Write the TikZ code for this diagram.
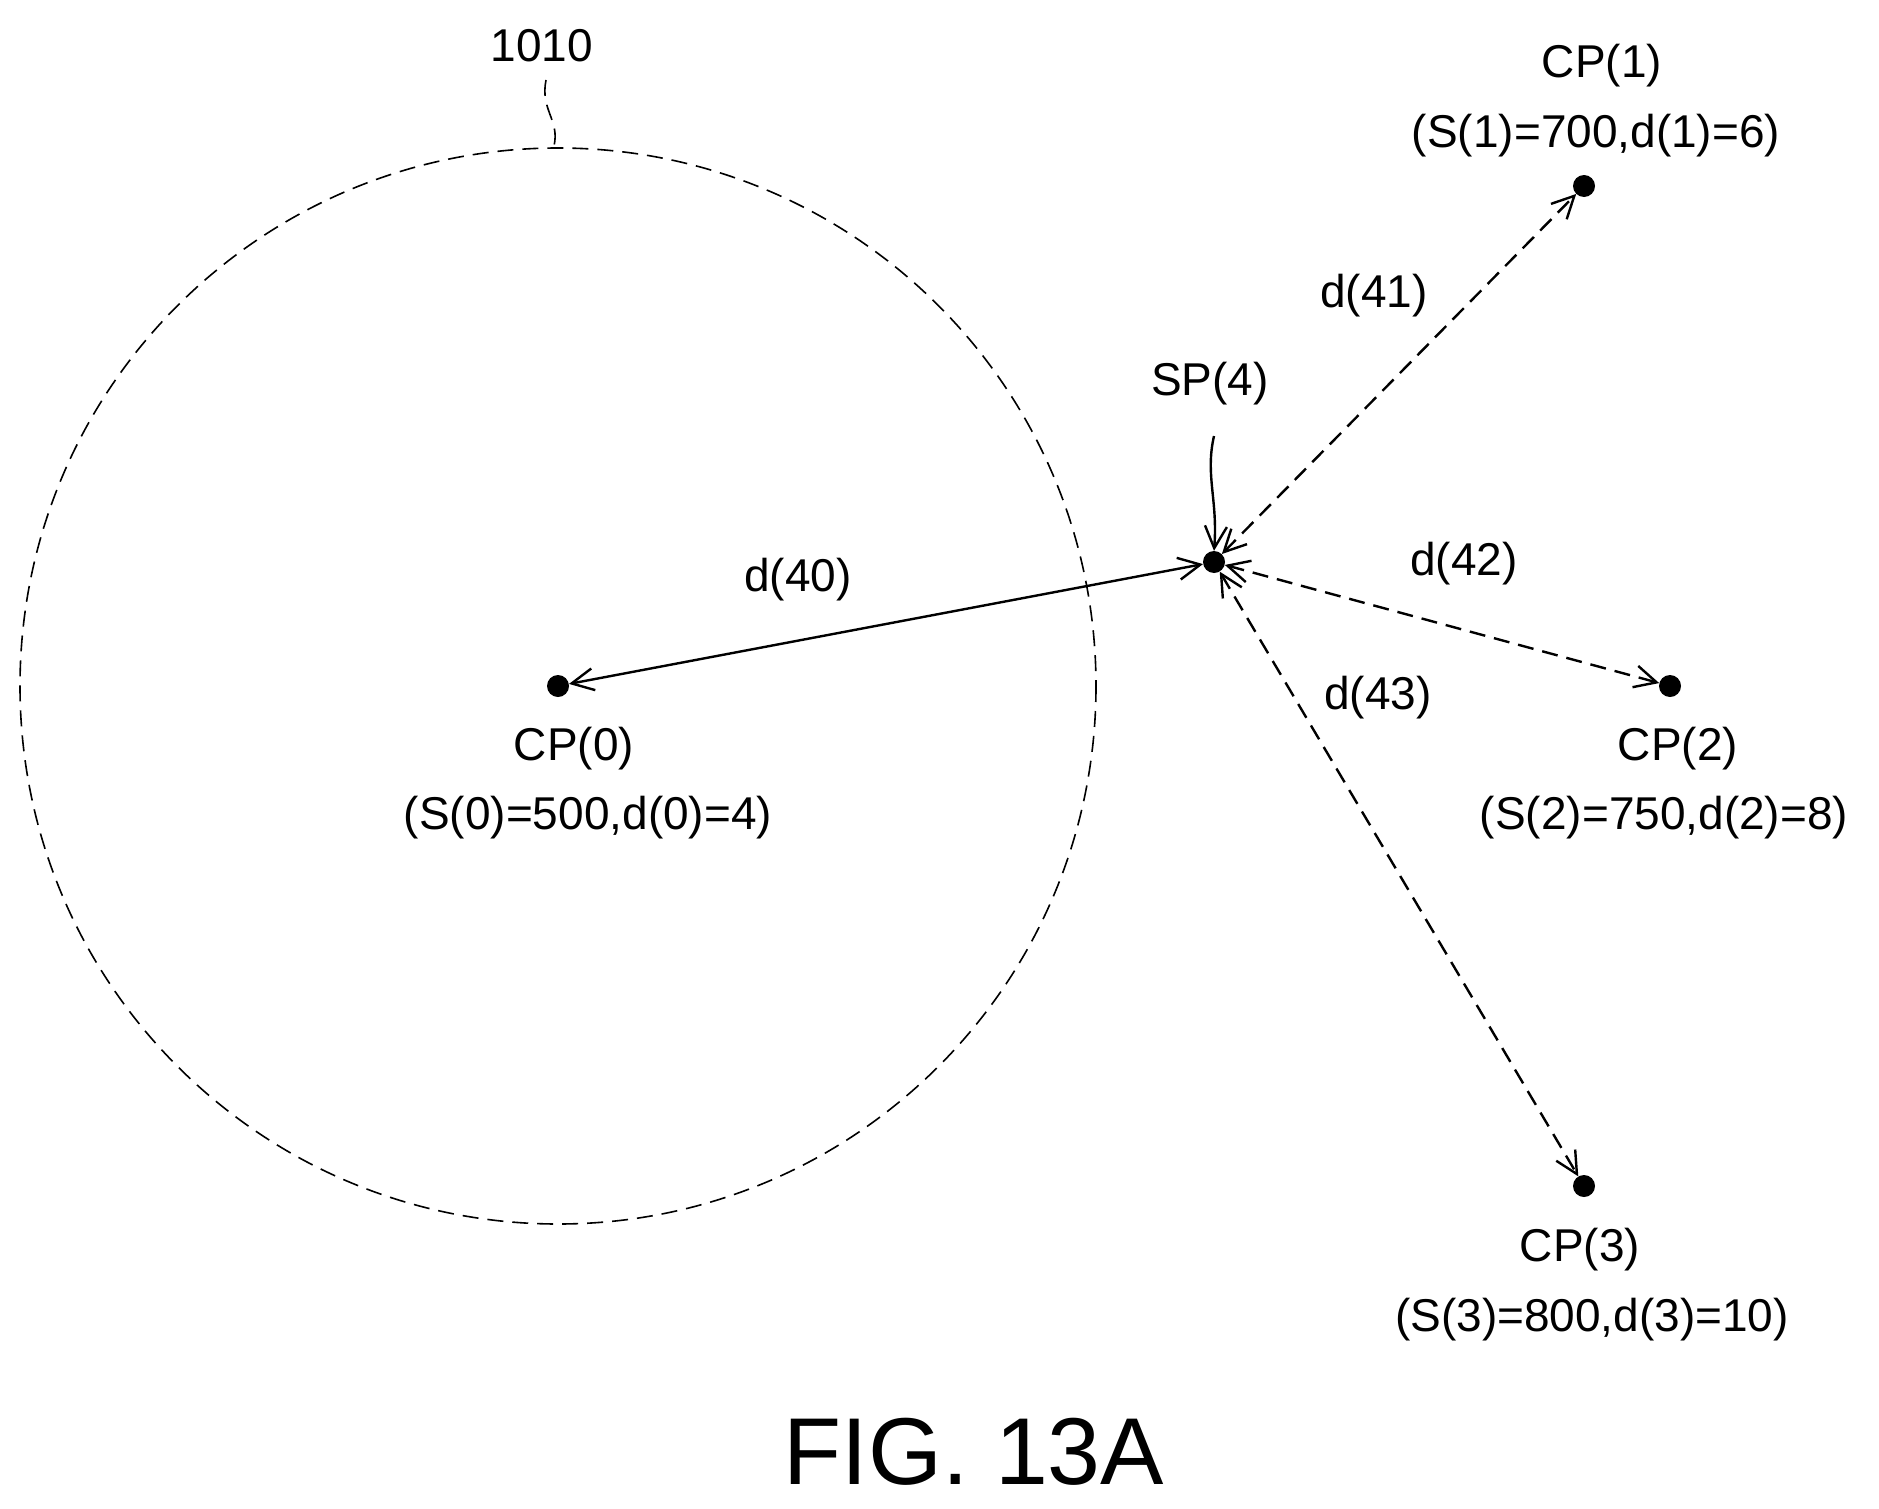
\documentclass[tikz,border=0pt]{standalone}
\usepackage{fontspec}
\setmainfont{Liberation Sans}
\usetikzlibrary{arrows.meta}
\begin{document}
\begin{tikzpicture}[x=1pt,y=-1pt,
  dot/.style={circle,fill=black,inner sep=0pt,minimum size=22pt},
  lbl/.style={font=\fontsize{46}{55}\selectfont,inner sep=0pt},
  conn/.style={line width=2.4pt,{Straight Barb[length=22pt,width=22pt,line width=2.4pt]}-{Straight Barb[length=22pt,width=22pt,line width=2.4pt]}},
  dsh/.style={dash pattern=on 16pt off 9pt}]
\useasboundingbox (0,0) rectangle (1879,1509);
\draw[line width=1.6pt,dsh] (558,686) circle[radius=538];
\node[dot] (c0) at (558,686) {};
\node[dot] (sp) at (1214,562) {};
\node[dot] (c1) at (1584,186) {};
\node[dot] (c2) at (1670,686) {};
\node[dot] (c3) at (1584,1186) {};
\node[lbl] (n1010) at (542,46) {1010};
\coordinate (a1) at (546,80);
\coordinate (a2) at (554,146);
\draw[line width=1.6pt,dsh] (a1) .. controls (540,110) and (560,120) .. (a2);
\node[lbl] (lc1) at (1602,66) {CP(1)};
\node[lbl] (lc1b) at (1596,136) {(S(1)=700,d(1)=6)};
\node[lbl] (l41) at (1374,296) {d(41)};
\node[lbl] (lsp) at (1210,384) {SP(4)};
\node[lbl] (l40) at (798,580) {d(40)};
\node[lbl] (l42) at (1464,564) {d(42)};
\node[lbl] (l43) at (1378,698) {d(43)};
\node[lbl] (lc0) at (574,749) {CP(0)};
\node[lbl] (lc0b) at (588,818) {(S(0)=500,d(0)=4)};
\node[lbl] (lc2) at (1678,749) {CP(2)};
\node[lbl] (lc2b) at (1664,818) {(S(2)=750,d(2)=8)};
\node[lbl] (lc3) at (1580,1250) {CP(3)};
\node[lbl] (lc3b) at (1592,1320) {(S(3)=800,d(3)=10)};
\node[inner sep=0pt,font=\fontsize{95}{110}\selectfont] (fig) at (974,1452) {FIG.\ 13A};
\draw[conn] (c0) -- (sp);
\draw[conn,dsh] (sp) -- (c1);
\draw[conn,dsh] (sp) -- (c2);
\draw[conn,dsh] (sp) -- (c3);
\coordinate (s1) at (1214,436);
\draw[line width=2.4pt,-{Straight Barb[length=22pt,width=22pt,line width=2.4pt]}] (s1) .. controls (1205,475) and (1218,500) .. (sp.north);
\end{tikzpicture}
\end{document}
